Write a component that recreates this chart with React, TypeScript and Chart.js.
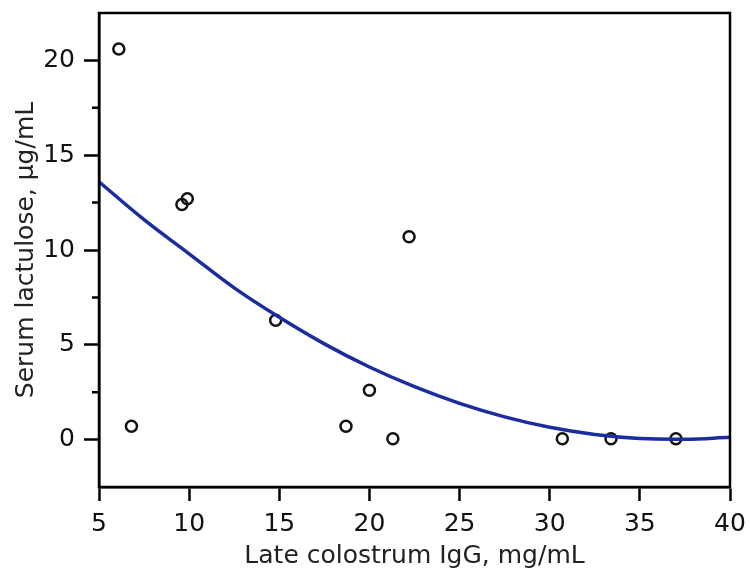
import React, { useEffect, useRef } from "react";
import { Chart, registerables } from "chart.js";

Chart.register(...registerables);

// Observed points: late colostrum IgG (mg/mL) vs serum lactulose (µg/mL)
const igG = [6.1, 6.8, 9.6, 9.9, 14.8, 18.7, 20.0, 21.3, 22.2, 30.7, 33.4, 37.0];
const lactulose = [20.6, 0.7, 12.4, 12.7, 6.3, 0.7, 2.6, 0.05, 10.7, 0.05, 0.05, 0.05];

// Fitted curve
const fitX = [5, 7.5, 10, 12.5, 15, 17.5, 20, 22.5, 25, 27.5, 30, 32.5, 35, 37.5, 40];
const fitY = [13.6, 11.6, 9.8, 8.0, 6.45, 5.05, 3.83, 2.79, 1.91, 1.2, 0.65, 0.27, 0.06, 0.02, 0.12];

const xTicks = [5, 10, 15, 20, 25, 30, 35, 40];
const yTicks = [0, 5, 10, 15, 20];
const yMinorTicks = [2.5, 7.5, 12.5, 17.5];

const FONT = "DejaVu Sans";
const FS = 25;

export default function App() {
  const ref = useRef<HTMLCanvasElement | null>(null);

  useEffect(() => {
    const canvas = ref.current;
    if (!canvas) return;

    const framePlugin = {
      id: "frame",
      afterDraw(chart: any) {
        const { ctx, chartArea } = chart;
        const y = chart.scales.y;
        ctx.save();
        ctx.strokeStyle = "#000";
        ctx.lineWidth = 2.5;
        ctx.strokeRect(chartArea.left, chartArea.top, chartArea.right - chartArea.left, chartArea.bottom - chartArea.top);
        ctx.beginPath();
        for (const v of yMinorTicks) {
          const py = y.getPixelForValue(v);
          ctx.moveTo(chartArea.left - 7, py);
          ctx.lineTo(chartArea.left, py);
        }
        ctx.stroke();
        ctx.restore();
      },
    };

    const zeroPad = (s: any) => {
      s.paddingTop = 0;
      s.paddingBottom = 0;
      s.paddingLeft = 0;
      s.paddingRight = 0;
    };

    const chart = new Chart(canvas, {
      type: "scatter",
      data: {
        datasets: [
          {
            type: "line",
            label: "fit",
            data: fitX.map((x, i) => ({ x, y: fitY[i] })),
            borderColor: "#1b2c9e",
            borderWidth: 3.5,
            pointRadius: 0,
            tension: 0.4,
            fill: false,
          } as any,
          {
            label: "observed",
            data: igG.map((x, i) => ({ x, y: lactulose[i] })),
            showLine: false,
            pointRadius: 5.5,
            pointBorderWidth: 2.5,
            pointBorderColor: "#111",
            pointBackgroundColor: "rgba(0,0,0,0)",
          },
        ],
      },
      options: {
        responsive: false,
        animation: false,
        layout: { padding: { top: 13, right: 20, left: 0, bottom: 0 } },
        plugins: { legend: { display: false }, tooltip: { enabled: false } },
        scales: {
          x: {
            type: "linear",
            min: 5,
            max: 40,
            afterBuildTicks: (s: any) => {
              s.ticks = xTicks.map((value) => ({ value }));
            },
            afterFit: (s: any) => {
              s.height = 84;
              zeroPad(s);
            },
            grid: { display: true, drawOnChartArea: false, drawTicks: true, tickLength: 14, tickColor: "#000", tickWidth: 2.5 },
            border: { display: true, color: "#000", width: 2.5 },
            ticks: { color: "#111", font: { family: FONT, size: FS }, padding: 8, maxRotation: 0 },
            title: {
              display: true,
              text: "Late colostrum IgG, mg/mL",
              color: "#222",
              font: { family: FONT, size: FS },
              padding: { top: 0, bottom: 0 },
            },
          },
          y: {
            type: "linear",
            min: -2.5,
            max: 22.5,
            afterBuildTicks: (s: any) => {
              s.ticks = yTicks.map((value) => ({ value }));
            },
            afterFit: (s: any) => {
              s.width = 99;
              zeroPad(s);
            },
            grid: { display: true, drawOnChartArea: false, drawTicks: true, tickLength: 15, tickColor: "#000", tickWidth: 2.5 },
            border: { display: true, color: "#000", width: 2.5 },
            ticks: { color: "#111", font: { family: FONT, size: FS }, padding: 9 },
            title: {
              display: true,
              text: "Serum lactulose, µg/mL",
              color: "#222",
              font: { family: FONT, size: FS },
              padding: { top: 11, bottom: 11 },
            },
          },
        },
      },
      plugins: [framePlugin],
    });

    return () => chart.destroy();
  }, []);

  return (
    <div style={{ position: "fixed", left: 0, top: 0, width: 750, height: 571, background: "#fff" }}>
      <canvas ref={ref} width={750} height={571} />
    </div>
  );
}
